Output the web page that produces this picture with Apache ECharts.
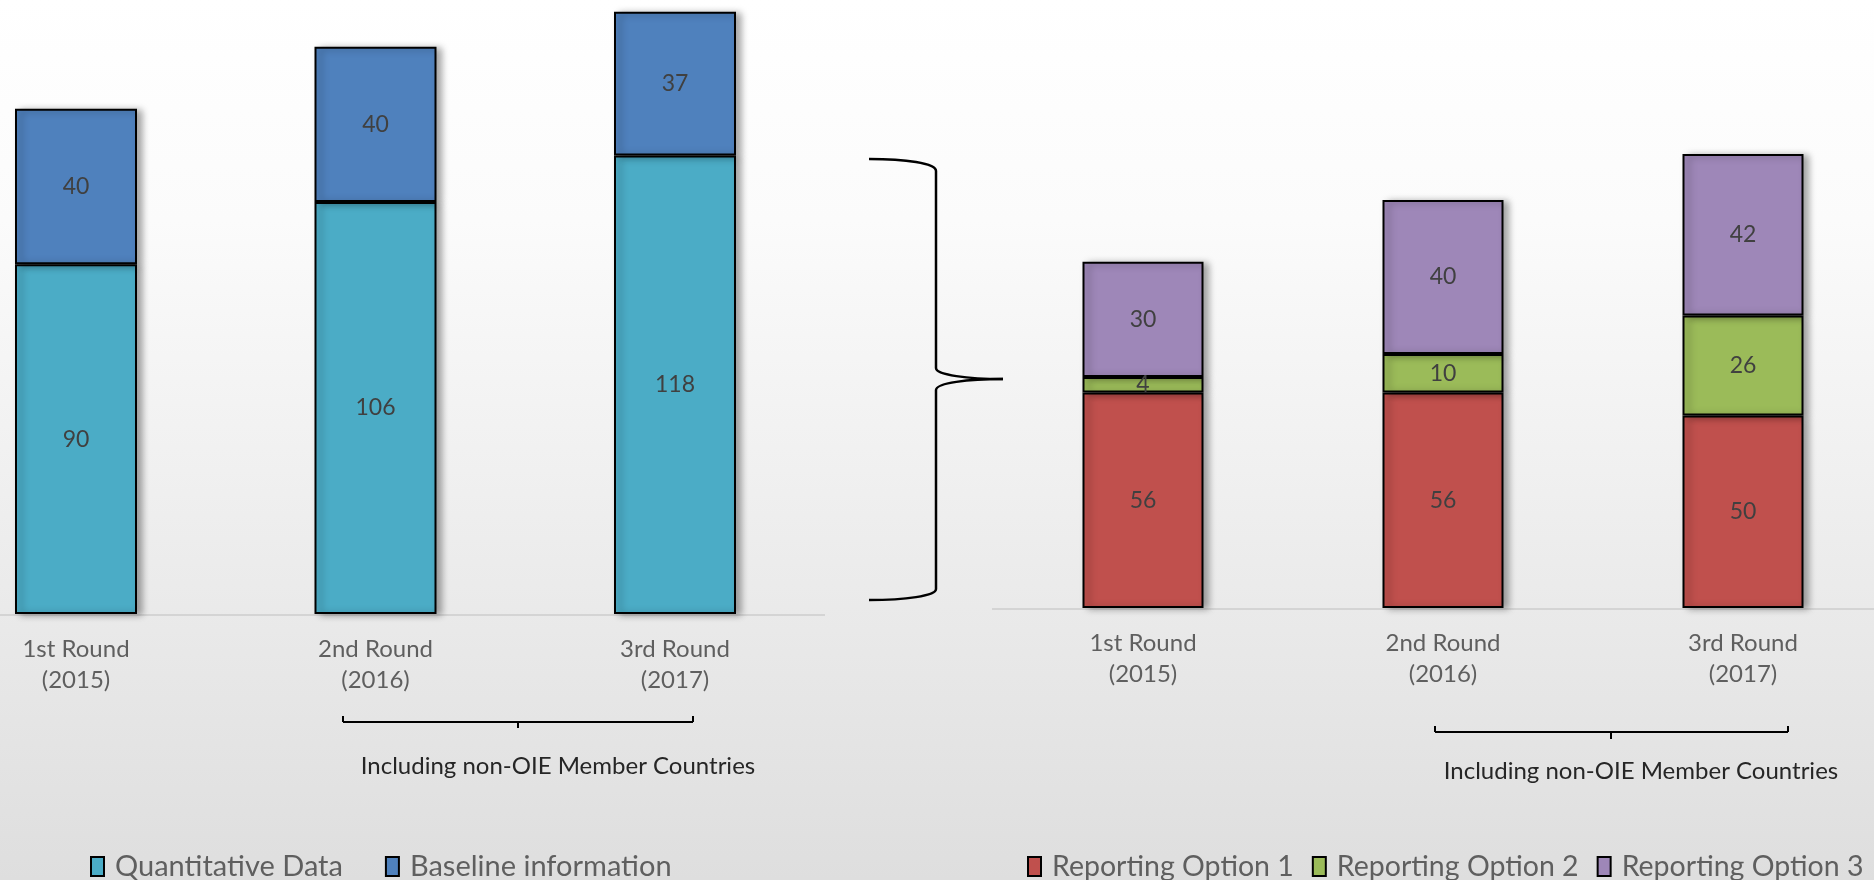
<!DOCTYPE html>
<html>
<head>
<meta charset="utf-8">
<script src="https://cdn.jsdelivr.net/npm/echarts@6/dist/echarts.min.js"></script>
<style>
html,body{margin:0;padding:0;background:#fff;}
#chart{width:1874px;height:880px;}
</style>
</head>
<body>
<div id="chart"></div>
<script>
const categories = ['1st Round\n(2015)', '2nd Round\n(2016)', '3rd Round\n(2017)'];
const quantitativeData = [90, 106, 118];
const baselineInfo = [40, 40, 37];
const reportingOption1 = [56, 56, 50];
const reportingOption2 = [4, 10, 26];
const reportingOption3 = [30, 40, 42];
const bracketNote = 'Including non-OIE Member Countries';

const FONT = 'Lato, "Open Sans", sans-serif';
const chart = echarts.init(document.getElementById('chart'), null, {renderer: 'canvas'});

function barSeries(name, data, color, xi, stack, bw) {
  return {
    name: name, type: 'bar', stack: stack, data: data, clip: false,
    xAxisIndex: xi, yAxisIndex: xi, barWidth: bw,
    itemStyle: {
      color: color, borderColor: '#000', borderWidth: 2,
      shadowColor: 'rgba(0,0,0,0.35)', shadowBlur: 7, shadowOffsetX: 5, shadowOffsetY: 1
    },
    label: {
      show: true, position: 'inside', color: '#404040',
      fontFamily: FONT, fontSize: 23
    },
    emphasis: {disabled: true}
  };
}

const axisLabelStyle = {
  color: '#5f5f5f', fontFamily: FONT, fontSize: 24, lineHeight: 31, margin: 20
};

const LS = {stroke: '#000', lineWidth: 2.5, fill: null};
function bez(x1, y1, cpx1, cpy1, cpx2, cpy2, x2, y2) {
  return {type: 'bezierCurve', silent: true,
    shape: {x1: x1, y1: y1, cpx1: cpx1, cpy1: cpy1, cpx2: cpx2, cpy2: cpy2, x2: x2, y2: y2},
    style: LS};
}
function seg(x1, y1, x2, y2, w, c) {
  return {type: 'line', silent: true, shape: {x1: x1, y1: y1, x2: x2, y2: y2},
    style: {stroke: c || '#000', lineWidth: w || 2}};
}

const legendItem = {shadowBlur: 0, shadowOffsetX: 0, shadowOffsetY: 0, borderWidth: 2, borderColor: '#000'};

const option = {
  animation: false,
  backgroundColor: {
    type: 'linear', x: 0, y: 0, x2: 0, y2: 1,
    colorStops: [
      {offset: 0, color: '#ffffff'},
      {offset: 0.25, color: '#fbfbfb'},
      {offset: 1, color: '#dedede'}
    ]
  },
  grid: [
    {left: 76, width: 599, top: 0, bottom: 266},
    {left: 1143, width: 600, top: 0, bottom: 272}
  ],
  xAxis: [
    {type: 'category', gridIndex: 0, data: categories, boundaryGap: false,
     axisTick: {show: false}, axisLine: {show: false}, axisLabel: axisLabelStyle},
    {type: 'category', gridIndex: 1, data: categories, boundaryGap: false,
     axisTick: {show: false}, axisLine: {show: false}, axisLabel: axisLabelStyle}
  ],
  yAxis: [
    {type: 'value', gridIndex: 0, min: 0, max: 158, show: false, splitLine: {show: false}},
    {type: 'value', gridIndex: 1, min: 0, max: 158, show: false, splitLine: {show: false}}
  ],
  legend: [
    {data: ['Quantitative Data', 'Baseline information'], left: 90, top: 852, padding: 0,
     itemWidth: 13, itemHeight: 19, itemGap: 42, icon: 'rect',
     itemStyle: legendItem,
     textStyle: {color: '#5f5f5f', fontFamily: FONT, fontSize: 29, padding: [0, 0, 0, 6]}},
    {data: ['Reporting Option 1', 'Reporting Option 2', 'Reporting Option 3'], left: 1027, top: 852, padding: 0,
     itemWidth: 13, itemHeight: 19, itemGap: 18, icon: 'rect',
     itemStyle: legendItem,
     textStyle: {color: '#5f5f5f', fontFamily: FONT, fontSize: 28.5, padding: [0, 0, 0, 6]}}
  ],
  series: [
    barSeries('Quantitative Data', quantitativeData, '#4bacc6', 0, 'a', 122),
    barSeries('Baseline information', baselineInfo, '#4f81bd', 0, 'a', 122),
    barSeries('Reporting Option 1', reportingOption1, '#c0504d', 1, 'b', 121),
    barSeries('Reporting Option 2', reportingOption2, '#9bbb59', 1, 'b', 121),
    barSeries('Reporting Option 3', reportingOption3, '#9e87b8', 1, 'b', 121)
  ],
  graphic: [
    {type: 'group', silent: true, z: -1, children: [
      seg(0, 615, 825, 615, 2, '#d4d4d4'),
      seg(992, 609, 1874, 609, 2, '#d4d4d4')
    ]},
    bez(869, 159, 905, 159, 936, 163, 936, 171),
    seg(936, 171, 936, 368, 2.5),
    bez(936, 368, 936, 375, 968, 379, 1003, 379),
    bez(1003, 379, 968, 379, 936, 383, 936, 390),
    seg(936, 390, 936, 589, 2.5),
    bez(936, 589, 936, 596, 905, 600, 869, 600),
    seg(343, 716, 343, 722), seg(343, 722, 693, 722), seg(693, 722, 693, 716),
    seg(518, 722, 518, 728),
    seg(1435, 726, 1435, 732), seg(1435, 732, 1788, 732), seg(1788, 732, 1788, 726),
    seg(1611, 732, 1611, 739),
    {type: 'text', silent: true, x: 558, y: 766,
     style: {text: bracketNote, fill: '#262626', font: '24px ' + FONT, textAlign: 'center', textVerticalAlign: 'middle'}},
    {type: 'text', silent: true, x: 1641, y: 771,
     style: {text: bracketNote, fill: '#262626', font: '24px ' + FONT, textAlign: 'center', textVerticalAlign: 'middle'}}
  ]
};
chart.setOption(option);
</script>
</body>
</html>
